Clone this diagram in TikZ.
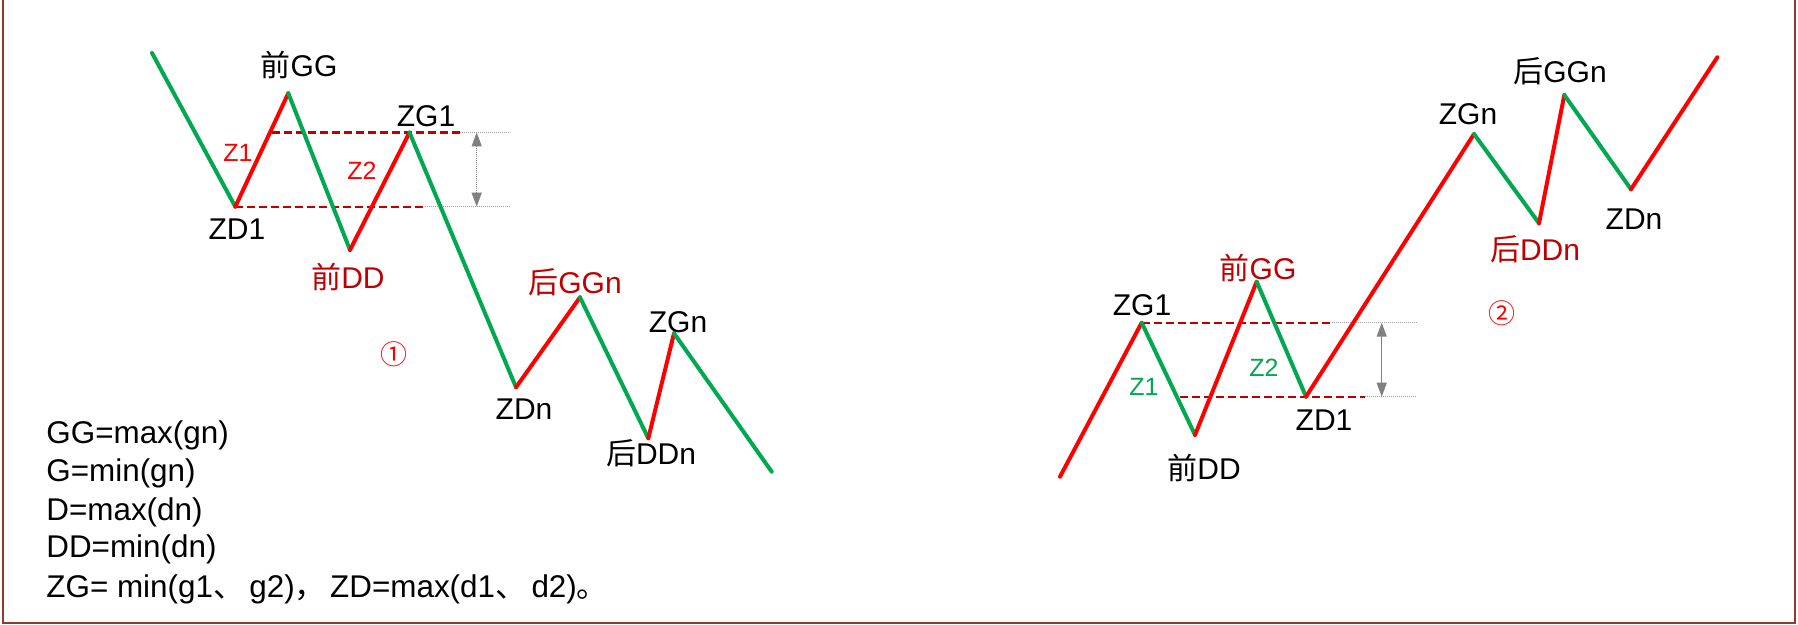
\documentclass[tikz,border=0pt]{standalone}
\usepackage{fontspec}
\setmainfont{Liberation Sans}
\newfontfamily\cjk{Noto Sans CJK SC}
\usetikzlibrary{arrows.meta}
\definecolor{gline}{RGB}{0,168,80}
\definecolor{rline}{RGB}{255,0,0}
\definecolor{dred}{RGB}{192,0,0}
\definecolor{framec}{RGB}{140,60,50}
\definecolor{guide}{RGB}{160,160,160}
\definecolor{arrowc}{RGB}{128,128,128}
\begin{document}
\begin{tikzpicture}[x=0.5pt,y=-0.5pt,
  up/.style={draw=rline,line width=2pt,line cap=round},
  down/.style={draw=gline,line width=2pt,line cap=round},
  level/.style={draw=dred,line width=1.1pt,dash pattern=on 4pt off 2pt},
  guideline/.style={draw=guide,line width=0.7pt,dash pattern=on 0.6pt off 0.4pt},
  span/.style={draw=arrowc,line width=0.7pt,dash pattern=on 0.6pt off 0.4pt,{Triangle[width=5pt,length=7pt]}-{Triangle[width=5pt,length=7pt]}},
  lab/.style={inner sep=0pt,anchor=base,font=\fontsize{15}{18}\selectfont},
  zlab/.style={inner sep=0pt,anchor=base,font=\fontsize{12.5}{15}\selectfont},
  info/.style={inner sep=0pt,anchor=base west,font=\fontsize{15.7}{18}\selectfont},
  circnum/.style={inner sep=0pt,text=rline,font=\cjk\fontsize{13.5}{15}\selectfont}
]
\useasboundingbox (0,0) rectangle (1798,625);
% frame
\draw[framec,line width=1.25pt] (3,-5) -- (3,623) -- (1795,623) -- (1795,-5);

% ---------- left chart ----------
\coordinate (L0) at (152,53);
\coordinate (LZD1) at (235.3,206.7);
\coordinate (LGG) at (288.3,93.3);
\coordinate (LDD) at (350,250);
\coordinate (LZG1) at (409.5,132.5);
\coordinate (LZDn) at (516,387.3);
\coordinate (LGGn) at (580,297.3);
\coordinate (LDDn) at (648.3,438.3);
\coordinate (LZGn) at (674,333.3);
\coordinate (LE) at (771.7,471.7);

\coordinate (LT1) at (271.7,132.5);
\coordinate (LT2) at (460,132.5);
\coordinate (LT3) at (510,132.5);
\coordinate (LB2) at (425,206.7);
\coordinate (LB3) at (510,206.7);
\coordinate (LAt) at (476.7,132.5);
\coordinate (LAb) at (476.7,206.7);

\draw[guideline] (LT2) -- (LT3);
\draw[guideline] (LB2) -- (LB3);
\draw[level] (LT1) -- (LT2);
\draw[level] (LZD1) -- (LB2);
\draw[span] (LAt) -- (LAb);

\draw[down] (L0) -- (LZD1);
\draw[up] (LZD1) -- (LGG);
\draw[down] (LGG) -- (LDD);
\draw[up] (LDD) -- (LZG1);
\draw[down] (LZG1) -- (LZDn);
\draw[up] (LZDn) -- (LGGn);
\draw[down] (LGGn) -- (LDDn);
\draw[up] (LDDn) -- (LZGn);
\draw[down] (LZGn) -- (LE);

\node[lab] (lgg) at (299,77) {{\cjk 前}GG};
\node[lab] (lzd1) at (237,240) {ZD1};
\node[lab,text=dred] (ldd) at (348,289) {{\cjk 前}DD};
\node[lab] (lzg1) at (426,127) {ZG1};
\node[zlab,text=rline] (lz1) at (238,161.7) {Z1};
\node[zlab,text=rline] (lz2) at (362,180) {Z2};
\node[lab,text=dred] (lggn) at (575,294) {{\cjk 后}GGn};
\node[lab] (lzgn) at (678,333) {ZGn};
\node[lab] (lzdn) at (524,420) {ZDn};
\node[lab] (lddn) at (651,465) {{\cjk 后}DDn};
\node[circnum] (m1) at (394,354) {①};

% ---------- right chart ----------
\coordinate (R0) at (1060,476.7);
\coordinate (RZG1) at (1141.7,322.7);
\coordinate (RDD) at (1195,435);
\coordinate (RGG) at (1256.7,281.7);
\coordinate (RZD1) at (1306,396.7);
\coordinate (RZGn) at (1474,134);
\coordinate (RDDn) at (1539,223.3);
\coordinate (RGGn) at (1564.3,95);
\coordinate (RZDn) at (1631,189.3);
\coordinate (RE) at (1717.3,57.3);

\coordinate (RT2) at (1331.7,322.7);
\coordinate (RT3) at (1416.7,322.7);
\coordinate (RB1) at (1180,396.7);
\coordinate (RB2) at (1365,396.7);
\coordinate (RB3) at (1416.7,396.7);
\coordinate (RAt) at (1381.7,322.7);
\coordinate (RAb) at (1381.7,396.7);

\draw[guideline] (RT2) -- (RT3);
\draw[guideline] (RB2) -- (RB3);
\draw[level] (RZG1) -- (RT2);
\draw[level] (RB1) -- (RB2);
\draw[span] (RAt) -- (RAb);

\draw[up] (R0) -- (RZG1);
\draw[down] (RZG1) -- (RDD);
\draw[up] (RDD) -- (RGG);
\draw[down] (RGG) -- (RZD1);
\draw[up] (RZD1) -- (RZGn);
\draw[down] (RZGn) -- (RDDn);
\draw[up] (RDDn) -- (RGGn);
\draw[down] (RGGn) -- (RZDn);
\draw[up] (RZDn) -- (RE);

\node[lab] (rzg1) at (1142,316) {ZG1};
\node[lab,text=dred] (rgg) at (1258,280) {{\cjk 前}GG};
\node[zlab,text=gline] (rz1) at (1144,395) {Z1};
\node[zlab,text=gline] (rz2) at (1264,376.7) {Z2};
\node[lab] (rzd1) at (1324,430) {ZD1};
\node[lab] (rdd) at (1204,479) {{\cjk 前}DD};
\node[lab] (rzgn) at (1468,125) {ZGn};
\node[lab] (rggn) at (1560,83) {{\cjk 后}GGn};
\node[lab,text=dred] (rddn) at (1535,261) {{\cjk 后}DDn};
\node[lab] (rzdn) at (1634,230) {ZDn};
\node[circnum] (m2) at (1502,313) {②};

% ---------- definitions ----------
\node[info] (t1) at (46,444) {GG=max(gn)};
\node[info] (t2) at (46,481) {G=min(gn)};
\node[info] (t3) at (46,520) {D=max(dn)};
\node[info] (t4) at (46,557) {DD=min(dn)};
\node[info] (t5) at (46,597) {ZG= min(g1{\cjk 、}\hspace{2.5pt}g2){\cjk ，}\hspace{2pt}ZD=max(d1{\cjk 、}\hspace{2.5pt}d2){\cjk 。}};
\end{tikzpicture}
\end{document}
